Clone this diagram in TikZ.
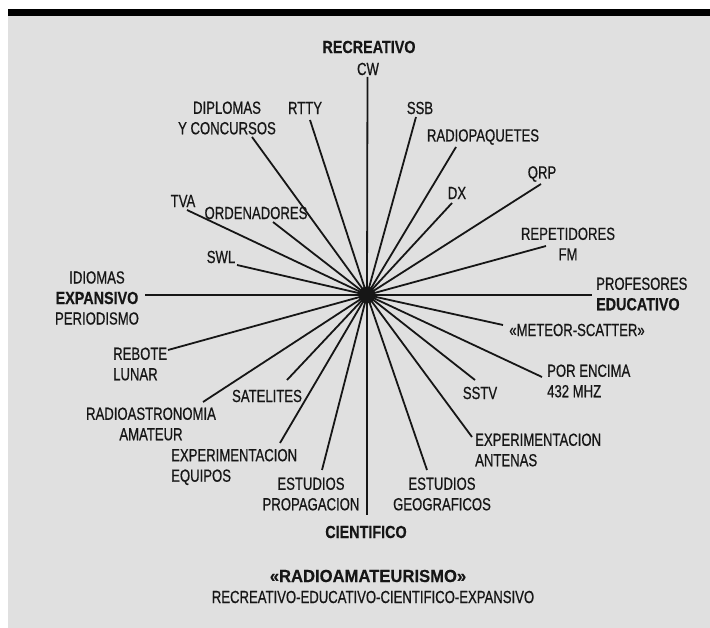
\documentclass[tikz,border=0pt]{standalone}
\usepackage{fontspec}
\newfontfamily\cnd{Liberation Sans}[FakeStretch=0.75,FakeBold=0.6]
\newfontfamily\cndb{Liberation Sans}[FakeStretch=0.82,FakeBold=0.4]
\newfontfamily\ttl{Liberation Sans}[FakeStretch=0.95,FakeBold=0.4]
\definecolor{bg}{HTML}{E0E0E0}
\definecolor{ink}{HTML}{161616}
\begin{document}
\begin{tikzpicture}[x=1pt,y=-1pt,
  lbl/.style={inner sep=0pt, text=ink, font=\cnd\fontsize{17.5}{20.5}\selectfont},
  blbl/.style={inner sep=0pt, text=ink, font=\cndb\bfseries\fontsize{17.5}{20.5}\selectfont},
  spoke/.style={draw=ink, line width=1.8pt},
]
\useasboundingbox (0,0) rectangle (710,628);
\fill[white] (0,0) rectangle (710,628);
\fill[bg] (8,16) rectangle (710,628);
\fill[black] (8,9) rectangle (710,16);

% hub
\node[circle, fill=ink, minimum size=17pt, inner sep=0pt] (c) at (367,295) {};

% labels
\node[blbl] (rec) at (369,47) {RECREATIVO};
\node[lbl] (cw) at (368,69) {CW};
\node[lbl, align=center] (dip) at (227,118) {DIPLOMAS\\Y CONCURSOS};
\node[lbl] (rtty) at (305,108) {RTTY};
\node[lbl] (ssb) at (420,108) {SSB};
\node[lbl] (rpq) at (483,137) {RADIOPAQUETES};
\node[lbl] (tva) at (183,201) {TVA};
\node[lbl] (ord) at (256,213) {ORDENADORES};
\node[lbl] (dx) at (457,193) {DX};
\node[lbl] (qrp) at (542,174) {QRP};
\node[lbl, align=center] (rep) at (568,244) {REPETIDORES\\FM};
\node[lbl] (swl) at (221,257) {SWL};
\node[lbl, align=center] (exp) at (97,298) {IDIOMAS\\{\cndb\bfseries EXPANSIVO}\\PERIODISMO};
\node[lbl, align=left, anchor=west] (edu) at (596,294) {PROFESORES\\{\cndb\bfseries EDUCATIVO}};
\node[lbl] (met) at (577,330) {«METEOR-SCATTER»};
\node[lbl, align=left, anchor=west] (por) at (547,381) {POR ENCIMA\\432 MHZ};
\node[lbl] (sstv) at (480,393) {SSTV};
\node[lbl, align=left, anchor=west] (reb) at (113,364) {REBOTE\\LUNAR};
\node[lbl] (sat) at (267,396) {SATELITES};
\node[lbl, align=center] (rad) at (151,424) {RADIOASTRONOMIA\\AMATEUR};
\node[lbl, align=left, anchor=west] (eeq) at (171,467) {EXPERIMENTACION\\EQUIPOS};
\node[lbl, align=left, anchor=west] (ean) at (475,450) {EXPERIMENTACION\\ANTENAS};
\node[lbl, align=center] (epr) at (311,494) {ESTUDIOS\\PROPAGACION};
\node[lbl, align=center] (ege) at (442,494) {ESTUDIOS\\GEOGRAFICOS};
\node[blbl] (cie) at (366,532) {CIENTIFICO};
\node[inner sep=0pt, text=ink, font=\ttl\bfseries\fontsize{17.5}{20}\selectfont] (ttl) at (368,576) {«RADIOAMATEURISMO»};
\node[lbl] (sub) at (373,597) {RECREATIVO-EDUCATIVO-CIENTIFICO-EXPANSIVO};

% spoke ends
\coordinate (e-cw) at (367.5,77);
\coordinate (e-cie) at (367,515);
\coordinate (e-rtty) at (310,120);
\coordinate (e-dip) at (252,137);
\coordinate (e-ssb) at (416,117);
\coordinate (e-rpq) at (456,147);
\coordinate (e-dx) at (452,203);
\coordinate (e-qrp) at (541,184);
\coordinate (e-rep) at (546,246);
\coordinate (e-edu) at (592,295);
\coordinate (e-tva) at (187,210);
\coordinate (e-ord) at (273,222);
\coordinate (e-swl) at (237,265);
\coordinate (e-exp) at (145,295);
\coordinate (e-reb) at (168,350);
\coordinate (e-rad) at (203,402);
\coordinate (e-sat) at (287,380);
\coordinate (e-eeq) at (280,443);
\coordinate (e-epr) at (322,470);
\coordinate (e-ege) at (427,470);
\coordinate (e-ean) at (472,437);
\coordinate (e-sstv) at (475,380);
\coordinate (e-por) at (542,377);
\coordinate (e-met) at (503,325);

\foreach \e in {cw,cie,rtty,dip,ssb,rpq,dx,qrp,rep,edu,tva,ord,swl,exp,reb,rad,sat,eeq,epr,ege,ean,sstv,por,met}
  \draw[spoke] (c.center) -- (e-\e);
\end{tikzpicture}
\end{document}
